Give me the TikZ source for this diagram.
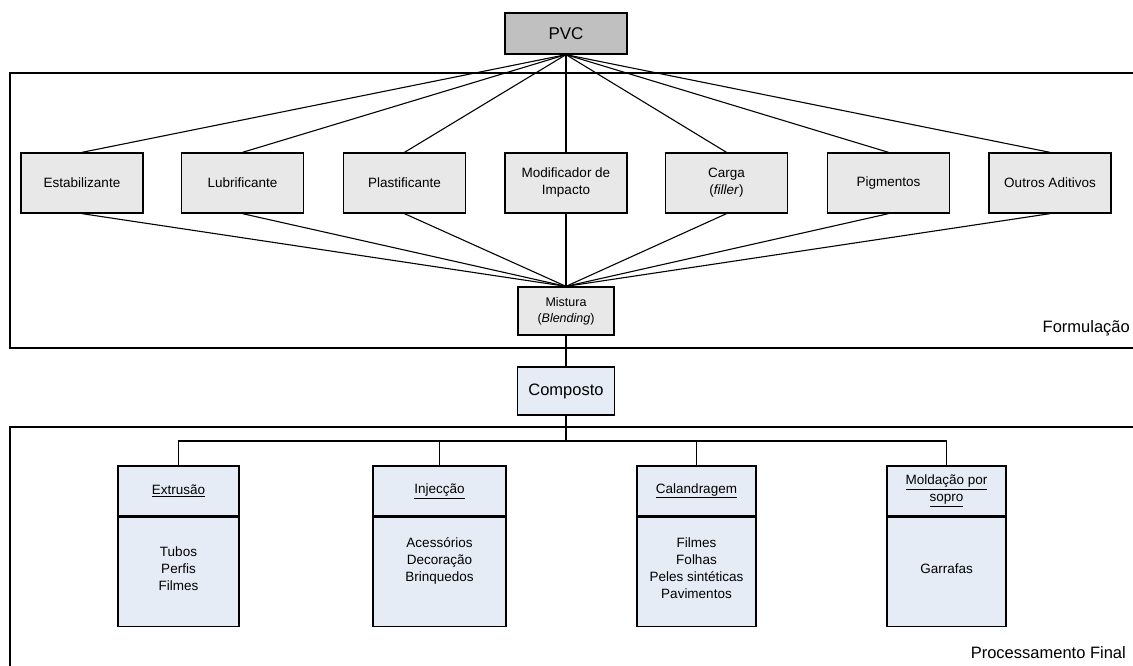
\documentclass[tikz,border=0pt]{standalone}
\usepackage{fontspec}
\setmainfont{Liberation Sans}
\definecolor{boxgray}{HTML}{E8E8E8}
\definecolor{pvcgray}{HTML}{C0C0C0}
\definecolor{boxblue}{HTML}{E6ECF6}
\begin{document}
\begin{tikzpicture}[x=1pt,y=-1pt,
  conn/.style={line width=1.1pt},
  frame/.style={line width=2.2pt},
  addbox/.style={draw, line width=1.3pt, fill=boxgray, minimum width=122pt, minimum height=60pt, inner sep=0pt, align=center, font=\fontsize{13.5}{17}\selectfont},
  pvcbox/.style={draw, line width=1.3pt, fill=pvcgray, minimum width=122pt, minimum height=41pt, inner sep=0pt, font=\fontsize{17}{20}\selectfont},
  mixbox/.style={draw, line width=1.3pt, fill=boxgray, minimum width=96pt, minimum height=48pt, inner sep=0pt, align=center, font=\fontsize{12.5}{16}\selectfont},
  compbox/.style={draw, line width=1.3pt, fill=boxblue, minimum width=97pt, minimum height=48pt, inner sep=0pt, font=\fontsize{16.5}{20}\selectfont},
  headbox/.style={draw, line width=1.3pt, fill=boxblue, minimum height=50pt, inner sep=0pt, align=center, font=\fontsize{13.5}{17}\selectfont},
  bodybox/.style={draw, line width=1.3pt, fill=boxblue, minimum height=109pt, inner sep=0pt},
  bodytext/.style={align=center, font=\fontsize{13.5}{17}\selectfont, inner sep=0pt},
  framelabel/.style={anchor=east, inner sep=0pt, font=\fontsize{16.5}{20}\selectfont}
]
\useasboundingbox (0,0) rectangle (1133,666);

% frames
\draw[frame] (1140,73) -- (10,73) -- (10,348) -- (1140,348);
\draw[frame] (1140,427) -- (10,427) -- (10,680);
\node[framelabel] (flab) at (1130,328) {Formulação};
\node[framelabel] (plab) at (1126,653) {Processamento Final};

% nodes
\node[pvcbox] (pvc) at (566,33.5) {PVC};

\node[addbox] (est) at (82,183) {Estabilizante};
\node[addbox] (lub) at (242.5,183) {Lubrificante};
\node[addbox] (pla) at (404.5,183) {Plastificante};
\node[addbox] (mod) at (566,183) {Modificador de\\Impacto};
\node[addbox] (car) at (726.5,183) {Carga\\(\textit{filler})};
\node[addbox] (pig) at (888.5,183) {Pigmentos};
\node[addbox] (out) at (1050,183) {Outros Aditivos};

\node[mixbox] (mix) at (566,311) {Mistura\\(\textit{Blending})};
\node[compbox] (comp) at (566,391) {Composto};

% connectors
\foreach \n in {est,lub,pla,mod,car,pig,out}{
  \draw[conn] (pvc.south) -- (\n.north);
  \draw[conn] (\n.south) -- (mix.north);
}
\draw[conn] (mix.south) -- (comp.north);

% processing boxes
\node[headbox, minimum width=121pt] (ext-h) at (178.5,491) {\underline{Extrusão}};
\node[bodybox, minimum width=121pt, anchor=north] (ext-b) at (ext-h.south) {};
\node[bodytext] (ext-t) at (178.5,569) {Tubos\\Perfis\\Filmes};

\node[headbox, minimum width=133pt] (inj-h) at (439.5,491) {\underline{Injecção}};
\node[bodybox, minimum width=133pt, anchor=north] (inj-b) at (inj-h.south) {};
\node[bodytext] (inj-t) at (439.5,561) {Acessórios\\Decoração\\Brinquedos};

\node[headbox, minimum width=119pt] (cal-h) at (696.5,491) {\underline{Calandragem}};
\node[bodybox, minimum width=119pt, anchor=north] (cal-b) at (cal-h.south) {};
\node[bodytext] (cal-t) at (696.5,568) {Filmes\\Folhas\\Peles sintéticas\\Pavimentos};

\node[headbox, minimum width=119pt] (mol-h) at (946.5,491) {\underline{Moldação por}\\\underline{sopro}};
\node[bodybox, minimum width=119pt, anchor=north] (mol-b) at (mol-h.south) {};
\node[bodytext] (mol-t) at (946.5,569) {Garrafas};

\coordinate (bus) at (566,441);
\draw[conn] (comp.south) -- (bus);
\foreach \n in {ext,inj,cal,mol}{
  \draw[conn] (\n-h.north) |- (bus);
}
\end{tikzpicture}
\end{document}
